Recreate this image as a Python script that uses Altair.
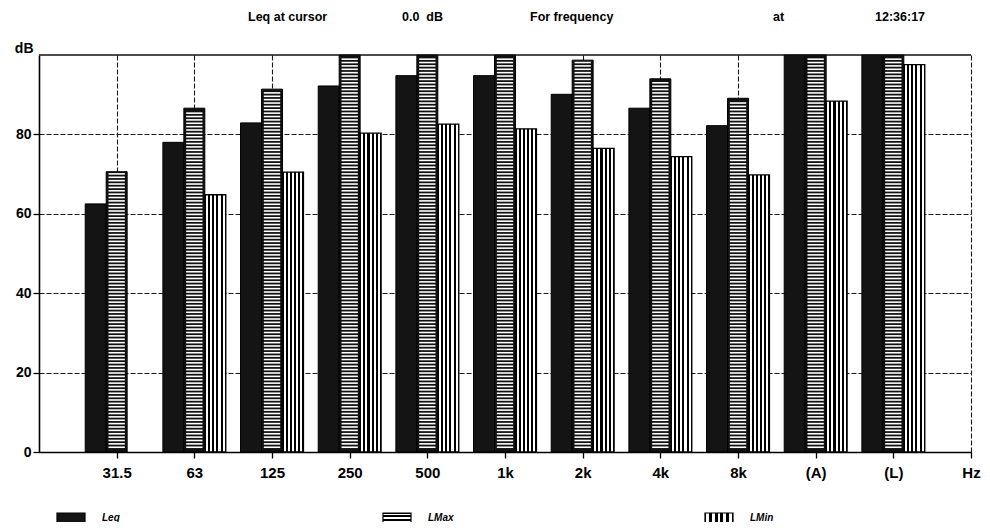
import altair as alt
import pandas as pd

# ---- data ----
categories = ["31.5", "63", "125", "250", "500", "1k", "2k", "4k", "8k", "(A)", "(L)"]
unit_label = "Hz"
leq = [62.5, 78.0, 82.9, 92.2, 94.8, 94.8, 90.1, 86.6, 82.2, 100, 100]
lmax = [70.6, 86.6, 91.4, 100, 100, 100, 98.7, 94.0, 89.1, 100, 100]
lmin = [None, 64.8, 70.5, 80.3, 82.6, 81.4, 76.5, 74.4, 69.8, 88.4, 97.6]
series_names = ["Leq", "LMax", "LMin"]
y_ticks = [0, 20, 40, 60, 80]
header_texts = ["Leq at cursor", "0.0\u00a0\u00a0dB", "For frequency", "at", "12:36:17"]

FONT = "Liberation Sans"

rows = []
for i, c in enumerate(categories):
    for s, arr, off in zip(series_names, [leq, lmax, lmin], [-1, 0, 1]):
        v = arr[i]
        if v is not None:
            rows.append({"cat": c, "idx": i + 1, "series": s, "off": off, "v": v})
df = pd.DataFrame(rows)

xscale = alt.Scale(domain=[0, len(categories) + 1], nice=False, zero=False)
yscale = alt.Scale(domain=[0, 100], nice=False)

label_array = "[" + ",".join(["''"] + [f"'{c}'" for c in categories] + [f"'{unit_label}'"]) + "]"

x_axis = alt.Axis(
    values=list(range(1, len(categories) + 2)),
    labelExpr=f"{label_array}[datum.value]",
    labelFont=FONT, labelFontWeight="bold", labelFontSize=15, labelColor="black",
    labelAngle=0, labelFlush=False, labelOverlap=False, labelPadding=7,
    tickColor="black", tickSize=6, tickWidth=1.3,
    domainColor="black", domainWidth=1.6,
    grid=True, gridColor="#1a1a1a", gridDash=[5, 2], gridWidth=1.1, gridOpacity=1,
    title=None,
)
y_axis = alt.Axis(
    values=y_ticks,
    labelFont=FONT, labelFontWeight="bold", labelFontSize=14, labelColor="black",
    labelPadding=2,
    tickColor="black", tickSize=6, tickWidth=1.3,
    domainColor="black", domainWidth=1.6,
    grid=True, gridColor="#1a1a1a", gridDash=[5, 2], gridWidth=1.1, gridOpacity=1,
    title="dB", titleAngle=0, titleAlign="right", titleBaseline="middle",
    titleX=-6, titleY=-7, titleFont=FONT, titleFontWeight="bold", titleFontSize=14,
    titleColor="black",
)

half = 0.135
base = alt.Chart(df).transform_calculate(
    x0=f"datum.idx + datum.off*0.27 - {half}",
    x1=f"datum.idx + datum.off*0.27 + {half}",
)

def xq(field):
    return alt.X(field, scale=xscale, axis=x_axis)

def yq(field):
    return alt.Y(field, scale=yscale, axis=y_axis)

leq_layer = base.transform_filter("datum.series == 'Leq'").mark_rect(
    fill="#141414", stroke="black", strokeWidth=1
).encode(x=xq("x0:Q"), x2="x1:Q", y=yq("v:Q"), y2=alt.datum(0))

lmax_layer = base.transform_filter("datum.series == 'LMax'").mark_rect(
    fill="#111", stroke="black", strokeWidth=1
).encode(x=xq("x0:Q"), x2="x1:Q", y=yq("v:Q"), y2=alt.datum(0))

lmax_stripes = base.transform_filter("datum.series == 'LMax'").transform_calculate(
    s="sequence(1.2, datum.v - 0.4, 0.85)",
    sx0="datum.x0 + 0.03",
    sx1="datum.x1 - 0.03",
).transform_flatten(["s"]).mark_rule(color="white", strokeWidth=1.6).encode(
    x=xq("sx0:Q"), x2="sx1:Q", y=yq("s:Q"),
)

stops = []
for k in range(6):
    c = k / 5
    a = max(0.0, c - 0.05)
    b = min(1.0, c + 0.05)
    stops += [(a, "white"), (a, "black"), (b, "black"), (b, "white")]
vgrad = alt.LinearGradient(
    gradient="linear",
    stops=[alt.GradientStop(offset=o, color=col) for o, col in stops],
    x1=0, x2=1, y1=0, y2=0,
)

hstops = []
for k in range(4):
    c = k / 3
    a = max(0.0, c - 0.1)
    b = min(1.0, c + 0.1)
    hstops += [(a, "white"), (a, "black"), (b, "black"), (b, "white")]
hgrad = alt.LinearGradient(
    gradient="linear",
    stops=[alt.GradientStop(offset=o, color=col) for o, col in hstops],
    x1=0, x2=0, y1=0, y2=1,
)

lmin_layer = base.transform_filter("datum.series == 'LMin'").mark_rect(
    fill=vgrad, stroke="black", strokeWidth=1.3
).encode(x=xq("x0:Q"), x2="x1:Q", y=yq("v:Q"), y2=alt.datum(0))

top_rule = alt.Chart(pd.DataFrame({"y": [100]})).mark_rule(
    color="#111", strokeWidth=1.6
).encode(y=yq("y:Q"))

layers = [leq_layer, lmax_layer, lmax_stripes, lmin_layer, top_rule]

# header texts
header_x = [209, 363, 491, 734, 836]
for txt, hx in zip(header_texts, header_x):
    layers.append(
        alt.Chart(pd.DataFrame({"t": [txt]})).mark_text(
            font=FONT, fontWeight="bold", fontSize=12.5, align="left",
            baseline="middle", color="black"
        ).encode(text="t:N", x=alt.value(hx), y=alt.value(-38))
    )

# legend
legend_fills = ["#141414", hgrad, vgrad]
legend_sym_x = [18, 344, 666]
for name, fill, lx in zip(series_names, legend_fills, legend_sym_x):
    layers.append(
        alt.Chart(pd.DataFrame({"t": [name]})).mark_rect(
            fill=fill, stroke="black", strokeWidth=1.2
        ).encode(x=alt.value(lx), x2=alt.value(lx + 28), y=alt.value(458), y2=alt.value(468))
    )
    layers.append(
        alt.Chart(pd.DataFrame({"t": [name]})).mark_text(
            font=FONT, fontWeight="bold", fontStyle="italic", fontSize=10,
            align="left", baseline="middle", color="black"
        ).encode(text="t:N", x=alt.value(lx + 45), y=alt.value(463))
    )

chart = alt.layer(*layers).properties(
    width=932, height=397,
    autosize=alt.AutoSizeParams(type="none"),
    padding={"left": 31, "top": 47, "right": 11, "bottom": 70},
    background="white",
).configure_view(strokeWidth=0)

chart.save("out.html", embed_options={"renderer": "svg", "actions": False})
